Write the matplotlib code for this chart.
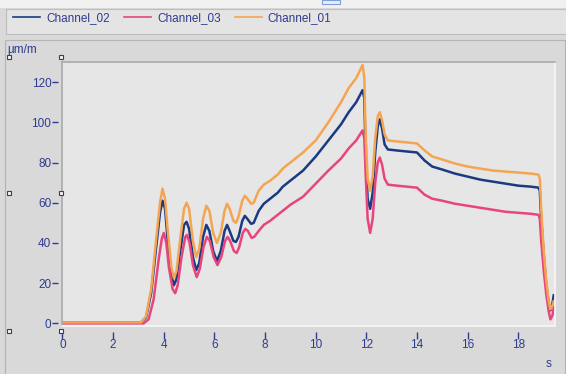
import numpy as np
import matplotlib
matplotlib.use('Agg')
import matplotlib.pyplot as plt
from matplotlib.patches import Rectangle
from matplotlib.lines import Line2D

plt.rcParams['font.family'] = ['Liberation Sans', 'DejaVu Sans']

# strain channels, time in s, values in um/m
ch02_t = [0, 3.1, 3.3, 3.5, 3.7, 3.85, 3.95, 4.05, 4.15, 4.3, 4.4, 4.5, 4.65, 4.8, 4.9,
          5.0, 5.15, 5.28, 5.4, 5.55, 5.68, 5.8, 5.95, 6.1, 6.25, 6.4, 6.5, 6.6, 6.75,
          6.85, 6.95, 7.1, 7.2, 7.3, 7.45, 7.55, 7.75, 7.95, 8.2, 8.5, 8.7, 9.0, 9.5,
          10.0, 10.5, 11.0, 11.3, 11.6, 11.85, 11.92, 11.97, 12.05, 12.15, 12.25, 12.35,
          12.45, 12.53, 12.62, 12.72, 12.85, 13.2, 13.6, 14.0, 14.3, 14.6, 15.0, 15.5,
          16.0, 16.5, 17.0, 17.5, 18.0, 18.5, 18.8, 18.85, 18.9, 19.0, 19.1, 19.2,
          19.27, 19.35, 19.4]
ch02 = [0.5, 0.5, 3, 15, 38, 55, 61, 57, 42, 24, 19, 22, 36, 49, 50.5,
        47, 33, 26.5, 30, 43, 49, 46, 36, 31, 36, 46, 49, 46, 41,
        40.5, 43, 51, 53.5, 52, 49.5, 50, 56, 59.5, 62, 65, 68, 71, 76,
        83, 91, 99, 105, 110, 116, 112, 85, 62, 57, 65, 85,
        98, 101.5, 97, 89, 86.5, 86, 85.5, 85, 81, 78, 76.5, 74.5,
        73, 71.5, 70.5, 69.5, 68.5, 68, 67.5, 66, 53, 35, 20, 10,
        6.5, 10, 14]

ch03_t = [0, 3.2, 3.4, 3.6, 3.8, 3.92, 4.0, 4.1, 4.2, 4.35, 4.45, 4.55, 4.7, 4.85, 4.92,
          5.02, 5.15, 5.3, 5.42, 5.57, 5.7, 5.82, 5.97, 6.12, 6.27, 6.42, 6.52, 6.62,
          6.77, 6.88, 6.98, 7.12, 7.22, 7.32, 7.47, 7.57, 7.75, 7.95, 8.2, 8.5, 8.7,
          9.0, 9.5, 10.0, 10.5, 11.0, 11.3, 11.6, 11.85, 11.92, 11.97, 12.05, 12.15,
          12.25, 12.35, 12.45, 12.53, 12.62, 12.72, 12.85, 13.2, 13.6, 14.0, 14.3, 14.6,
          15.0, 15.5, 16.0, 16.5, 17.0, 17.5, 18.0, 18.5, 18.8, 18.85, 18.9, 19.0,
          19.1, 19.2, 19.27, 19.35, 19.4]
ch03 = [0, 0, 2, 12, 32, 42, 45, 40, 28, 17, 15, 19, 33, 43, 44,
        40, 29, 23, 27, 38, 43, 41, 33, 29, 33, 41, 43, 41,
        36, 35, 38, 45, 47, 46, 42.5, 43, 46, 49, 51, 54, 56,
        59, 63, 69.5, 76, 82, 87, 91, 96, 92, 75, 52, 45,
        52, 70, 80, 82.5, 79, 72, 69, 68.5, 68, 67.5, 64, 62,
        61, 59.5, 58.5, 57.5, 56.5, 55.5, 55, 54.5, 54, 52, 42, 27,
        15, 6, 2, 4, 8]

ch01_t = ch02_t
ch01 = [0.5, 0.5, 3.5, 17, 42, 60, 67, 62, 47, 28, 22.5, 26, 42, 57, 60,
        57, 41, 33, 37, 52, 58.5, 56, 45, 40, 45, 56, 59.5, 57, 51,
        50, 53, 61, 63.5, 62, 59.5, 60, 66, 69, 71, 74, 77, 80, 85,
        91, 100, 110, 117, 122, 128.5, 122, 95, 72, 66, 73, 92,
        103, 105, 101, 94, 91, 90.5, 90, 89.5, 86, 83, 81.5, 79.5,
        78, 77, 76, 75.5, 75, 74.5, 74, 72, 58, 37, 22, 11,
        7, 9, 11]

series = [('Channel_02', ch02_t, ch02, '#1b3a82'),
          ('Channel_03', ch03_t, ch03, '#e8457c'),
          ('Channel_01', ch01_t, ch01, '#f4a552')]

xticks = np.arange(0, 19, 2)
yticks = np.arange(0, 121, 20)
txt = '#2f3b8e'

fig = plt.figure(figsize=(5.66, 3.74), dpi=100, facecolor='#d9d9d9')
W, H = 566, 374

def px(x, y, w, h):
    # pixel box (top-left origin) -> figure fraction
    return (x / W, 1 - (y + h) / H, w / W, h / H)

# top strip, legend box and panel border
fig.patches.append(Rectangle(px(0, 0, 566, 8)[:2], 1, 8 / H, transform=fig.transFigure,
                             facecolor='#f0f0f0', edgecolor='none'))
b = px(322, 0, 18, 4)
fig.patches.append(Rectangle(b[:2], b[2], b[3], transform=fig.transFigure,
                             facecolor='#e8eef8', edgecolor='#7fa0d8', lw=0.8))
b = px(6, 9, 570, 25)
fig.patches.append(Rectangle(b[:2], b[2], b[3], transform=fig.transFigure,
                             facecolor='#e4e4e4', edgecolor='#bdbdbd', lw=0.8))
b = px(5, 40, 560, 340)
fig.patches.append(Rectangle(b[:2], b[2], b[3], transform=fig.transFigure,
                             facecolor='none', edgecolor='#b4b4b4', lw=0.8))

ax = fig.add_axes(px(62.5, 62, 492.5, 264))
ax.set_facecolor('#e6e6e6')

for name, t, v, c in series:
    ax.plot(t, v, color=c, lw=1.8, label=name)

ax.set_xlim(0, 19.45)
ax.set_ylim(-1.3, 130)
ax.set_xticks(xticks)
ax.set_yticks(yticks)
ax.set_xticklabels([str(v) for v in xticks])
ax.set_yticklabels([str(v) for v in yticks])

ax.spines['left'].set_position(('outward', 3.5))
ax.spines['bottom'].set_position(('outward', 4))
ax.spines['left'].set_visible(False)
ax.spines['bottom'].set_visible(False)
ax.spines['top'].set_color('#a9a9a9')
ax.spines['right'].set_color('#f6f6f6')
ax.spines['top'].set_linewidth(1.2)
ax.spines['right'].set_linewidth(1.2)
ax.plot([0, 0], [0, 1], transform=ax.transAxes, color='#a9a9a9', lw=1.2, clip_on=False)
ax.plot([0, 1], [0, 0], transform=ax.transAxes, color='#f6f6f6', lw=1.2, clip_on=False)

ax.tick_params(axis='y', direction='out', length=4, width=1, color=txt,
               labelcolor=txt, labelsize=8.5, pad=0.5)
ax.tick_params(axis='x', direction='out', length=5, width=1, color=txt,
               labelcolor=txt, labelsize=8.5, pad=0.5)

fig.text(7 / W, 1 - 53 / H, 'µm/m', color=txt, fontsize=8.5)
fig.text(546 / W, 1 - 367 / H, 's', color=txt, fontsize=8.5)

# selection handles
for hx, hy in [(9, 57), (61, 57), (9, 193), (61, 193), (9, 331), (61, 331)]:
    b = px(hx - 2, hy - 2, 4, 4)
    fig.patches.append(Rectangle(b[:2], b[2], b[3], transform=fig.transFigure,
                                 facecolor='#f4f4f4', edgecolor='#404040', lw=0.8))

handles = [Line2D([], [], color=c, lw=1.2) for _, _, _, c in series]
fig.legend(handles, [s[0] for s in series], loc='center left',
           bbox_to_anchor=(13 / W, 1 - 18 / H), ncol=3, frameon=False,
           fontsize=8.5, handlelength=2.3, handletextpad=0.5, columnspacing=1.2,
           labelcolor=txt, borderpad=0, borderaxespad=0)

fig.savefig('out.png', dpi=100, facecolor=fig.get_facecolor())
